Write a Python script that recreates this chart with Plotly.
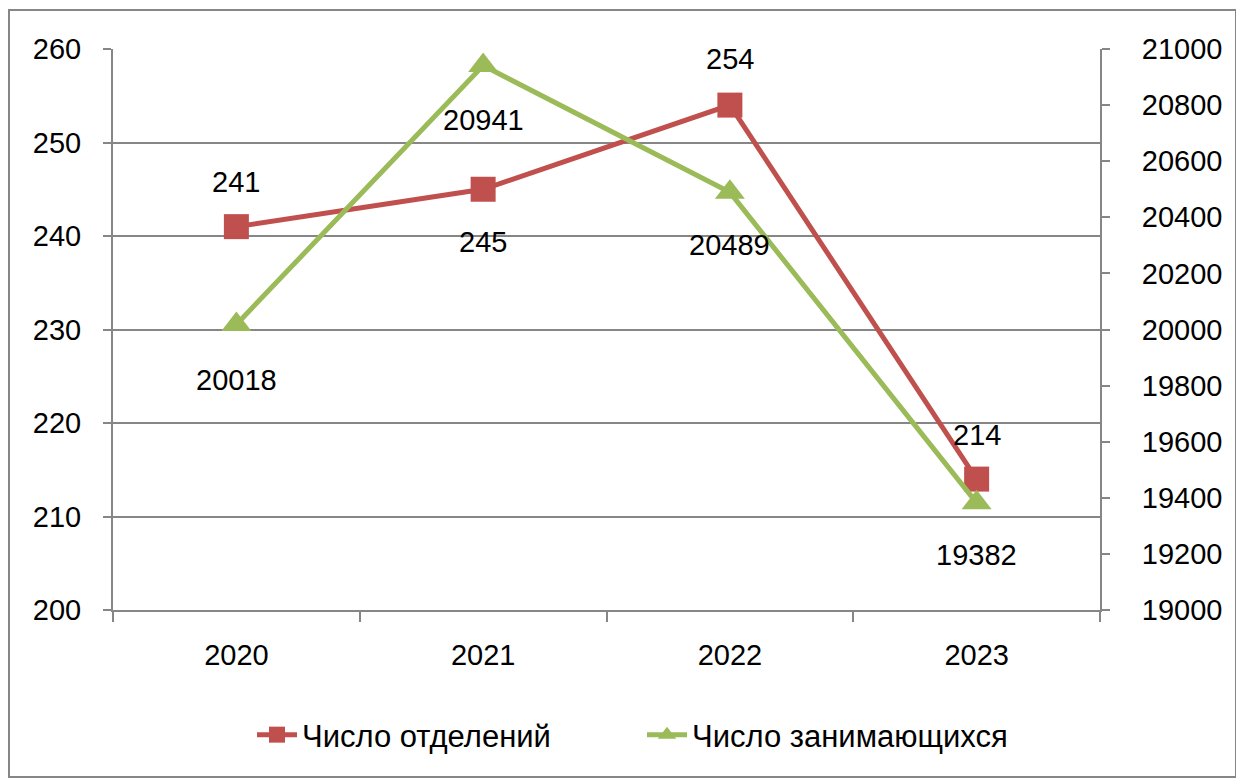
import plotly.graph_objects as go

years = ["2020", "2021", "2022", "2023"]
departments = [241, 245, 254, 214]
students = [20018, 20941, 20489, 19382]
name_dep = "Число отделений"
name_stu = "Число занимающихся"

# label offsets (pixels) for data labels
dep_shift = [45, -53, 46, 44]
stu_shift = [-56, -54, -53, -52]

RED = "#C0504D"
GREEN = "#9BBB59"
GRID = "#868686"
FONT = "Liberation Sans, Arial, sans-serif"
FS = 29

fig = go.Figure()
fig.add_trace(go.Scatter(
    x=years, y=departments, name=name_dep, mode="lines+markers",
    line=dict(color=RED, width=5),
    marker=dict(symbol="square", size=25, color=RED),
))
fig.add_trace(go.Scatter(
    x=years, y=students, name=name_stu, mode="lines+markers", yaxis="y2",
    line=dict(color=GREEN, width=5),
    marker=dict(symbol="triangle-up", size=26, color=GREEN),
))

annotations = []
for i, (v, s) in enumerate(zip(departments, dep_shift)):
    annotations.append(dict(x=i, y=v, xref="x", yref="y", text=str(v), showarrow=False,
                            yshift=s, font=dict(family=FONT, size=FS, color="black")))
for i, (v, s) in enumerate(zip(students, stu_shift)):
    annotations.append(dict(x=i, y=v, xref="x", yref="y2", text=str(v), showarrow=False,
                            yshift=s, font=dict(family=FONT, size=FS, color="black")))

# page body has an 8px margin; work in screen pixels and compensate
OFF = 8
W, H = 1244 - OFF, 780 - OFF
ml, mt = 113 - OFF, 49 - OFF
pw, ph = 987, 561
mr, mb = W - ml - pw, H - mt - ph

def px2paper_x(px):
    return (px - OFF - ml) / pw

def px2paper_y(py):
    return (H - mb - (py - OFF)) / ph

fig.update_layout(
    width=W, height=H,
    margin=dict(l=ml, r=mr, t=mt, b=mb, autoexpand=False),
    paper_bgcolor="white", plot_bgcolor="white",
    font=dict(family=FONT, size=FS, color="black"),
    showlegend=True,
    legend=dict(orientation="h", x=px2paper_x(642), xanchor="center",
                y=px2paper_y(735), yanchor="middle",
                font=dict(family=FONT, size=31, color="black"),
                itemwidth=40, tracegroupgap=0,
                entrywidth=335, entrywidthmode="pixels"),
    xaxis=dict(type="category", categoryorder="array", categoryarray=years,
               range=[-0.5, len(years) - 0.5], automargin=False,
               showline=True, linecolor=GRID, linewidth=2,
               ticks="outside", ticklen=10, tickcolor=GRID, tickwidth=2,
               tickson="boundaries", showgrid=False, tickangle=0,
               tickfont=dict(family=FONT, size=FS, color="black"),
               ticklabelstandoff=18),
    yaxis=dict(range=[200, 260], dtick=10, automargin=False,
               showline=True, linecolor=GRID, linewidth=2,
               ticks="outside", ticklen=8, tickcolor=GRID, tickwidth=2,
               showgrid=True, gridcolor=GRID, gridwidth=2, zeroline=False,
               tickfont=dict(family=FONT, size=FS, color="black"),
               ticklabelstandoff=16),
    yaxis2=dict(range=[19000, 21000], dtick=200, overlaying="y", side="right",
                tickformat="d", automargin=False,
                showline=True, linecolor=GRID, linewidth=2,
                ticks="outside", ticklen=8, tickcolor=GRID, tickwidth=2,
                showgrid=False, zeroline=False,
                tickfont=dict(family=FONT, size=FS, color="black"),
                ticklabelstandoff=26),
    annotations=annotations,
    shapes=[dict(type="rect", xref="paper", yref="paper",
                 x0=px2paper_x(9), x1=px2paper_x(1236),
                 y0=px2paper_y(777), y1=px2paper_y(10),
                 line=dict(color=GRID, width=2), fillcolor="rgba(0,0,0,0)",
                 layer="below")],
)

fig.write_html("out.html")
